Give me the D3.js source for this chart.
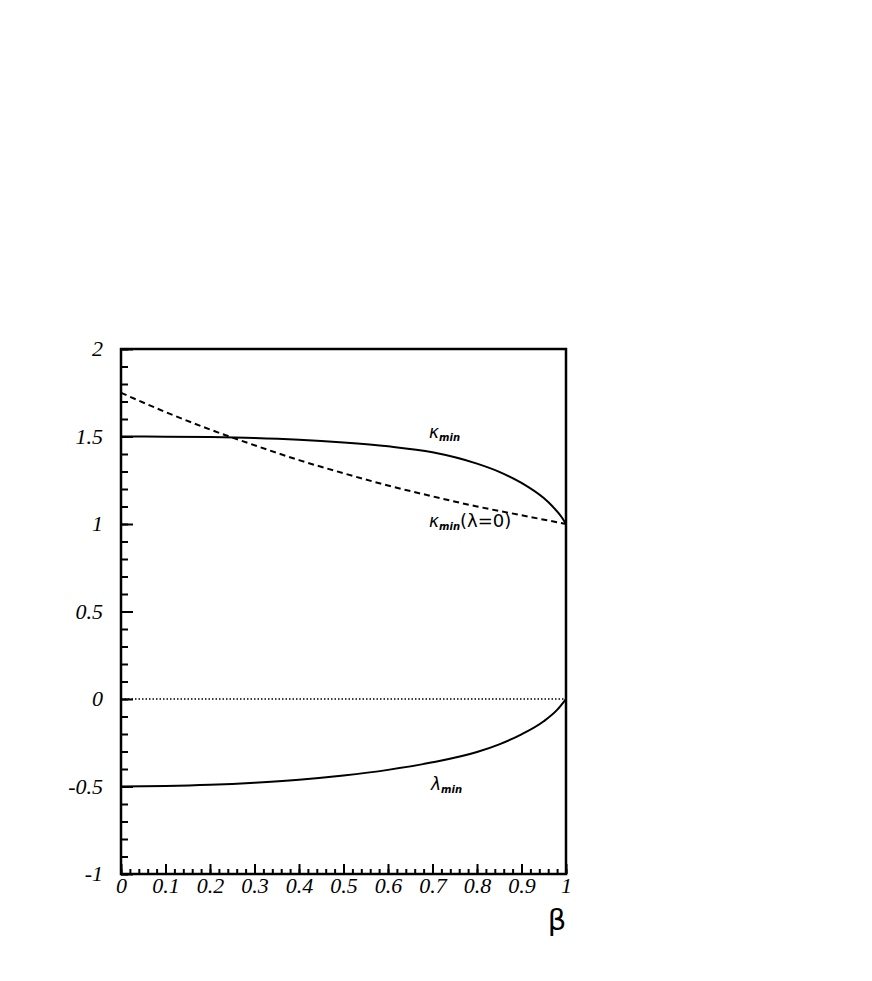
<!DOCTYPE html>
<html>
<head>
<meta charset="utf-8">
<script src="https://cdn.jsdelivr.net/npm/d3@7"></script>
<style>
  body { margin: 0; background: #fff; }
  .tick text { font-family: "Liberation Serif", serif; font-style: italic; font-size: 22px; fill: #000; }
  .lbl { font-family: "DejaVu Sans", sans-serif; fill: #000; }
</style>
</head>
<body>
<svg id="chart"></svg>
<script>
const width = 872;
const height = 981;
const svg = d3.select("svg#chart").attr("width", width).attr("height", height);

// plot frame in pixels
const margin = { top: 349, bottom: 107, left: 121, right: 306 };

// data
const beta = [0, 0.1, 0.2, 0.3, 0.4, 0.5, 0.6, 0.7, 0.8, 0.85, 0.9, 0.95, 0.97, 0.99, 1.0];
const kappaMin = [1.5, 1.499, 1.497, 1.492, 1.482, 1.466, 1.444, 1.41, 1.345, 1.298, 1.235, 1.148, 1.1, 1.04, 1.0];
const lambdaBeta = [0, 0.1, 0.2, 0.3, 0.4, 0.5, 0.6, 0.7, 0.8, 0.85, 0.9, 0.95, 0.98, 1.0];
const lambdaMin = [-0.5, -0.497, -0.49, -0.478, -0.461, -0.437, -0.405, -0.362, -0.303, -0.259, -0.202, -0.127, -0.062, 0];
const betaDash = [0, 0.1, 0.2, 0.3, 0.4, 0.5, 0.6, 0.7, 0.8, 0.9, 1.0];
const kappaLambda0 = [1.75, 1.64, 1.54, 1.45, 1.365, 1.29, 1.22, 1.158, 1.1, 1.05, 1.0];
const xTicks = [0, 0.1, 0.2, 0.3, 0.4, 0.5, 0.6, 0.7, 0.8, 0.9, 1];
const yTicks = [-1, -0.5, 0, 0.5, 1, 1.5, 2];

const x = d3.scaleLinear().domain([0, 1]).range([margin.left, width - margin.right]);
const y = d3.scaleLinear().domain([-1, 2]).range([height - margin.bottom, margin.top]);

const fmt = d => (d < 0 ? "-" : "") + String(Math.abs(d));

// minor ticks x
svg.append("g")
  .attr("transform", "translate(0," + y(-1) + ")")
  .call(d3.axisBottom(x).tickValues(d3.range(0, 1.0001, 0.02)).tickSize(-5).tickFormat(""))
  .call(g => g.select(".domain").remove())
  .selectAll("line").attr("stroke-width", 2);

// major ticks x
svg.append("g")
  .attr("transform", "translate(0," + y(-1) + ")")
  .call(d3.axisBottom(x).tickValues(xTicks).tickSize(-10).tickPadding(19).tickFormat(fmt))
  .call(g => g.select(".domain").remove())
  .call(g => g.selectAll("line").attr("stroke-width", 2))
  .call(g => g.selectAll("text").attr("dy", "0"));

// minor ticks y
svg.append("g")
  .attr("transform", "translate(" + x(0) + ",0)")
  .call(d3.axisLeft(y).tickValues(d3.range(-1, 2.0001, 0.1)).tickSize(-7).tickFormat(""))
  .call(g => g.select(".domain").remove())
  .selectAll("line").attr("stroke-width", 2);

// major ticks y
svg.append("g")
  .attr("transform", "translate(" + x(0) + ",0)")
  .call(d3.axisLeft(y).tickValues(yTicks).tickSize(-12).tickPadding(18).tickFormat(fmt))
  .call(g => g.select(".domain").remove())
  .call(g => g.selectAll("line").attr("stroke-width", 2))
  .call(g => g.selectAll("text").attr("dy", "0.3em"));

// zero line
svg.append("line")
  .attr("x1", x(0)).attr("x2", x(1))
  .attr("y1", y(0)).attr("y2", y(0))
  .attr("stroke", "#000").attr("stroke-width", 1.5)
  .attr("stroke-dasharray", "1.5,2");

const line = d3.line().x(d => x(d[0])).y(d => y(d[1])).curve(d3.curveMonotoneX);

svg.append("path")
  .datum(d3.zip(betaDash, kappaLambda0))
  .attr("d", line)
  .attr("fill", "none").attr("stroke", "#000").attr("stroke-width", 2)
  .attr("stroke-dasharray", "6,4");

svg.append("path")
  .datum(d3.zip(beta, kappaMin))
  .attr("d", line)
  .attr("fill", "none").attr("stroke", "#000").attr("stroke-width", 2);

svg.append("path")
  .datum(d3.zip(lambdaBeta, lambdaMin))
  .attr("d", line)
  .attr("fill", "none").attr("stroke", "#000").attr("stroke-width", 2);

// frame
svg.append("rect")
  .attr("x", x(0)).attr("y", y(2))
  .attr("width", x(1) - x(0)).attr("height", y(-1) - y(2))
  .attr("fill", "none").attr("stroke", "#000").attr("stroke-width", 2.5);

// curve labels
function label(px, py, main, suffix) {
  const t = svg.append("text").attr("class", "lbl").attr("x", px).attr("y", py);
  t.append("tspan").attr("font-size", 17).attr("font-style", "italic").text(main);
  t.append("tspan").attr("font-size", 10).attr("font-style", "italic").attr("font-weight", "bold")
    .attr("dy", 3).text("min");
  if (suffix) t.append("tspan").attr("font-size", 18).attr("dy", -3).text(suffix);
}
label(429, 438, "κ");
label(429, 527, "κ", "(λ=0)");
label(431, 790, "λ");

// x axis title
svg.append("text").attr("class", "lbl")
  .attr("x", 557).attr("y", 930)
  .attr("text-anchor", "middle")
  .attr("font-size", 29)
  .text("β");
</script>
</body>
</html>
